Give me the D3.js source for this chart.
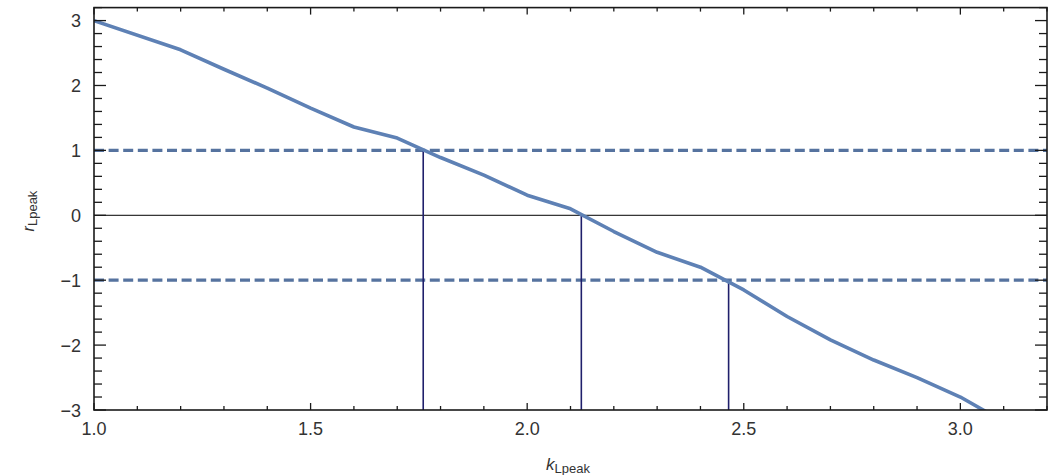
<!DOCTYPE html>
<html>
<head>
<meta charset="utf-8">
<script src="https://cdn.jsdelivr.net/npm/d3@7"></script>
<style>
  html, body { margin: 0; padding: 0; background: #fff; }
  svg { display: block; font-family: "Liberation Sans", Arial, sans-serif; }
</style>
</head>
<body>
<svg id="chart" width="1058" height="475"></svg>
<script>
// r_Lpeak as a function of k_Lpeak
const kValues = [1.0, 1.2, 1.3, 1.4, 1.5, 1.6, 1.7, 1.8, 1.9, 2.0, 2.1, 2.2, 2.3, 2.4, 2.5, 2.6, 2.7, 2.8, 2.9, 3.0, 3.1];
const rValues = [3.0, 2.55, 2.25, 1.96, 1.65, 1.36, 1.19, 0.89, 0.62, 0.31, 0.10, -0.25, -0.57, -0.80, -1.15, -1.56, -1.92, -2.23, -2.50, -2.80, -3.18];

// reference levels (dashed) and where the curve crosses 1, 0, -1
const thresholdLevels = [1, -1];
const crossingK = [1.76, 2.125, 2.465];
const crossingR = [1, 0, -1];

// tick labels
const xTickValues = [1.0, 1.5, 2.0, 2.5, 3.0];
const yTickValues = [-3, -2, -1, 0, 1, 2, 3];

const xDomain = [1.0, 3.2];
const yDomain = [-3, 3.2];

const svg = d3.select("#chart");
const plotLeft = 94, plotRight = 1047, plotTop = 7.6, plotBottom = 410;

const x = d3.scaleLinear().domain(xDomain).range([plotLeft, plotRight]);
const y = d3.scaleLinear().domain(yDomain).range([plotBottom, plotTop]);

const curveColor = "#5E81B5";
const frameColor = "#1a1a1a";

svg.append("defs").append("clipPath").attr("id", "plot-clip")
  .append("rect").attr("x", plotLeft).attr("y", plotTop)
  .attr("width", plotRight - plotLeft).attr("height", plotBottom - plotTop);

const plot = svg.append("g").attr("clip-path", "url(#plot-clip)");

// zero line
plot.append("line")
  .attr("x1", plotLeft).attr("x2", plotRight)
  .attr("y1", y(0)).attr("y2", y(0))
  .attr("stroke", "#000").attr("stroke-width", 1);

// dashed threshold lines
plot.selectAll("line.threshold").data(thresholdLevels).enter().append("line")
  .attr("class", "threshold")
  .attr("x1", plotLeft).attr("x2", plotRight)
  .attr("y1", d => y(d)).attr("y2", d => y(d))
  .attr("stroke", "#56739f").attr("stroke-width", 3.2)
  .attr("stroke-dasharray", "10,4.6");

// vertical drop lines at the crossings
plot.selectAll("line.drop").data(crossingK).enter().append("line")
  .attr("class", "drop")
  .attr("x1", d => x(d)).attr("x2", d => x(d))
  .attr("y1", (d, i) => y(crossingR[i])).attr("y2", y(yDomain[0]))
  .attr("stroke", "#1f1f6b").attr("stroke-width", 1.6);

// main curve
const line = d3.line().x((d, i) => x(kValues[i])).y(d => y(d));
plot.append("path")
  .datum(rValues)
  .attr("d", line)
  .attr("fill", "none")
  .attr("stroke", curveColor)
  .attr("stroke-width", 3.6)
  .attr("stroke-linejoin", "round");

// frame ticks (major and minor on all four sides)
const xMinor = d3.range(10, 33).map(v => v / 10);
const yMinor = d3.range(-15, 17).map(v => v / 5);
const isMajorX = v => Math.abs(v * 2 - Math.round(v * 2)) < 1e-6;
const isMajorY = v => Math.abs(v - Math.round(v)) < 1e-6;

const ticks = svg.append("g").attr("stroke", frameColor).attr("stroke-width", 1.3);
xMinor.forEach(v => {
  const len = isMajorX(v) ? 7 : 4;
  ticks.append("line").attr("x1", x(v)).attr("x2", x(v)).attr("y1", plotBottom).attr("y2", plotBottom - len);
  ticks.append("line").attr("x1", x(v)).attr("x2", x(v)).attr("y1", plotTop).attr("y2", plotTop + len);
});
yMinor.forEach(v => {
  const len = isMajorY(v) ? 12 : 8;
  ticks.append("line").attr("x1", plotLeft).attr("x2", plotLeft + len).attr("y1", y(v)).attr("y2", y(v));
  ticks.append("line").attr("x1", plotRight).attr("x2", plotRight - len).attr("y1", y(v)).attr("y2", y(v));
});

// frame
svg.append("rect")
  .attr("x", plotLeft).attr("y", plotTop)
  .attr("width", plotRight - plotLeft).attr("height", plotBottom - plotTop)
  .attr("fill", "none").attr("stroke", frameColor).attr("stroke-width", 1.6);

// tick labels
const fmtX = d3.format(".1f");
svg.append("g").selectAll("text").data(xTickValues).enter().append("text")
  .attr("x", d => x(d)).attr("y", 435)
  .attr("text-anchor", "middle")
  .attr("font-size", 18).attr("fill", "#333")
  .text(d => fmtX(d));

svg.append("g").selectAll("text").data(yTickValues).enter().append("text")
  .attr("x", 81).attr("y", d => y(d) + 6.5)
  .attr("text-anchor", "end")
  .attr("font-size", 18).attr("fill", "#333")
  .text(d => d < 0 ? "\u2212" + Math.abs(d) : String(d));

// axis titles
const xt = svg.append("text")
  .attr("x", 568).attr("y", 470)
  .attr("text-anchor", "middle")
  .attr("fill", "#333");
xt.append("tspan").attr("font-style", "italic").attr("font-size", 17).text("k");
xt.append("tspan").attr("font-size", 13).attr("dy", 3).text("Lpeak");

const yt = svg.append("text")
  .attr("transform", "translate(34,211) rotate(-90)")
  .attr("text-anchor", "middle")
  .attr("fill", "#333");
yt.append("tspan").attr("font-style", "italic").attr("font-size", 16).text("r");
yt.append("tspan").attr("font-size", 13).attr("dy", 3).text("Lpeak");
</script>
</body>
</html>
